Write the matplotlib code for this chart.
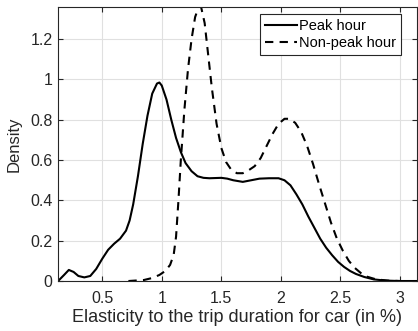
import numpy as np
from matplotlib import pyplot as plt

plt.rcParams['font.family'] = ['Liberation Sans', 'DejaVu Sans']

# Peak hour density
peak_x = [0.13, 0.18, 0.22, 0.26, 0.30, 0.35, 0.40, 0.45, 0.50, 0.55, 0.60, 0.65,
          0.70, 0.73, 0.76, 0.80, 0.84, 0.88, 0.92, 0.96, 0.98, 1.00, 1.04, 1.08,
          1.12, 1.16, 1.20, 1.25, 1.30, 1.35, 1.40, 1.50, 1.55, 1.60, 1.68, 1.75,
          1.82, 1.90, 1.98, 2.03, 2.08, 2.13, 2.18, 2.23, 2.28, 2.33, 2.38, 2.43,
          2.48, 2.53, 2.58, 2.63, 2.70, 2.78, 2.88, 3.00, 3.14]
peak_y = [0.0, 0.03, 0.055, 0.045, 0.025, 0.018, 0.025, 0.06, 0.11, 0.155, 0.185, 0.21,
          0.25, 0.30, 0.38, 0.52, 0.68, 0.82, 0.93, 0.98, 0.985, 0.97, 0.90, 0.80,
          0.71, 0.64, 0.585, 0.545, 0.52, 0.512, 0.51, 0.512, 0.508, 0.50, 0.492, 0.50,
          0.508, 0.51, 0.51, 0.50, 0.475, 0.43, 0.38, 0.32, 0.265, 0.21, 0.165, 0.128,
          0.095, 0.07, 0.05, 0.035, 0.02, 0.008, 0.002, 0.0, 0.0]

# Non-peak hour density
offpeak_x = [0.72, 0.85, 0.92, 0.98, 1.03, 1.07, 1.10, 1.12, 1.14, 1.16, 1.19, 1.22,
             1.25, 1.28, 1.31, 1.33, 1.36, 1.39, 1.42, 1.46, 1.50, 1.54, 1.58, 1.63,
             1.68, 1.73, 1.78, 1.83, 1.88, 1.93, 1.98, 2.03, 2.07, 2.12, 2.17, 2.22,
             2.27, 2.32, 2.37, 2.42, 2.47, 2.52, 2.57, 2.62, 2.67, 2.72, 2.80, 2.90, 3.00]
offpeak_y = [0.0, 0.005, 0.015, 0.03, 0.05, 0.08, 0.13, 0.22, 0.40, 0.60, 0.85, 1.05,
             1.20, 1.31, 1.36, 1.36, 1.28, 1.12, 0.96, 0.78, 0.66, 0.59, 0.555, 0.535,
             0.535, 0.55, 0.57, 0.61, 0.67, 0.73, 0.78, 0.805, 0.805, 0.785, 0.74, 0.67,
             0.58, 0.48, 0.385, 0.29, 0.21, 0.15, 0.10, 0.065, 0.04, 0.022, 0.008, 0.002, 0.0]

xticks = [0.5, 1, 1.5, 2, 2.5, 3]
xtick_labels = ['0.5', '1', '1.5', '2', '2.5', '3']
yticks = [0, 0.2, 0.4, 0.6, 0.8, 1, 1.2]
ytick_labels = ['0', '0.2', '0.4', '0.6', '0.8', '1', '1.2']

fig = plt.figure(figsize=(4.18, 3.31), dpi=100)
ax = fig.add_axes([0.139, 0.151, 0.858, 0.828])

ax.plot(peak_x, peak_y, color='black', lw=1.5, label='Peak hour')
ax.plot(offpeak_x, offpeak_y, color='black', lw=1.5, dashes=(4, 3), label='Non-peak hour')

ax.set_xlim(0.13, 3.14)
ax.set_ylim(0, 1.36)
ax.set_xticks(xticks)
ax.set_xticklabels(xtick_labels)
ax.set_yticks(yticks)
ax.set_yticklabels(ytick_labels)

ax.grid(True, color='#e0e0e0', lw=0.8)
ax.set_axisbelow(True)
for s in ax.spines.values():
    s.set_color('#262626')
    s.set_linewidth(0.8)
ax.tick_params(direction='in', length=3.5, top=True, right=True,
               colors='#262626', labelsize=11.5, width=0.8)
ax.tick_params(axis='x', pad=7)
ax.tick_params(axis='y', pad=4)

ax.set_xlabel('Elasticity to the trip duration for car (in %)', fontsize=13, color='#262626', labelpad=2)
ax.set_ylabel('Density', fontsize=12, color='#262626', labelpad=6)

leg = ax.legend(loc='upper right', bbox_to_anchor=(0.955, 0.974), borderaxespad=0,
                fontsize=10.5, fancybox=False, framealpha=1,
                edgecolor='#262626', handlelength=2.2, handletextpad=0.1,
                borderpad=0.35, labelspacing=0.2)
leg.get_frame().set_linewidth(0.8)

fig.savefig('out.png', dpi=100)
